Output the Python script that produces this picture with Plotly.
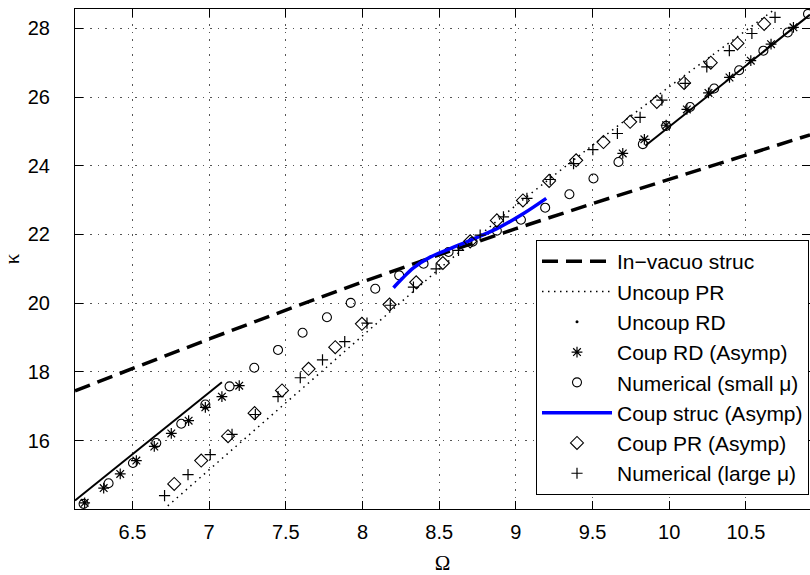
import plotly.graph_objects as go

# ---------------- data ----------------
invacuo_omega = [6.125, 6.5, 7.0, 7.5, 8.0, 8.5, 9.0, 9.5, 10.0, 10.5, 10.918]
invacuo_kappa = [17.45, 18.10, 18.96, 19.80, 20.62, 21.41, 22.17, 22.90, 23.61, 24.31, 24.90]

uncoup_pr_omega = [6.73, 7.0, 7.5, 8.0, 8.5, 9.0, 9.5, 10.0, 10.5, 10.69]
uncoup_pr_kappa = [14.10, 15.15, 17.10, 19.05, 21.00, 22.85, 24.60, 26.30, 27.95, 28.56]

rd_low_omega = [6.125, 7.083]
rd_low_kappa = [14.26, 17.70]
rd_high_omega = [9.844, 10.918]
rd_high_kappa = [24.58, 28.40]

coup_rd_omega = [6.188, 6.312, 6.420, 6.525, 6.642, 6.753, 6.866, 6.975, 7.083, 7.196,
                 9.697, 9.838, 9.980, 10.115, 10.256, 10.393, 10.532, 10.664, 10.81]
coup_rd_kappa = [14.19, 14.62, 15.03, 15.42, 15.83, 16.21, 16.58, 16.97, 17.28, 17.60,
                 24.36, 24.77, 25.18, 25.64, 26.12, 26.57, 27.06, 27.54, 28.03]

small_mu_omega = [6.181, 6.344, 6.503, 6.655, 6.818, 6.975, 7.133, 7.294, 7.449, 7.609,
                  7.768, 7.923, 8.083, 8.239, 8.398, 8.561, 8.718, 8.876, 9.033, 9.191,
                  9.349, 9.506, 9.669, 9.828, 9.980, 10.136, 10.293, 10.456, 10.614, 10.773, 10.905]
small_mu_kappa = [14.16, 14.76, 15.35, 15.93, 16.49, 17.05, 17.58, 18.12, 18.64, 19.14,
                  19.59, 20.01, 20.42, 20.81, 21.15, 21.49, 21.79, 22.11, 22.43, 22.78,
                  23.17, 23.63, 24.11, 24.63, 25.16, 25.71, 26.25, 26.78, 27.35, 27.88, 28.42]

coup_struc_omega = [8.202, 8.257, 8.332, 8.441, 8.572, 8.702, 8.876, 9.050, 9.198]
coup_struc_kappa = [20.45, 20.71, 21.03, 21.34, 21.59, 21.83, 22.17, 22.61, 23.05]

coup_pr_omega = [6.772, 6.948, 7.123, 7.296, 7.475, 7.648, 7.822, 7.996, 8.176, 8.350,
                 8.524, 8.702, 8.876, 9.046, 9.217, 9.393, 9.571, 9.745, 9.919, 10.097,
                 10.271, 10.445, 10.619]
coup_pr_kappa = [14.74, 15.42, 16.13, 16.80, 17.46, 18.09, 18.72, 19.40, 19.96, 20.61,
                 21.17, 21.80, 22.41, 22.99, 23.56, 24.16, 24.69, 25.28, 25.86, 26.41,
                 27.00, 27.56, 28.13]

large_mu_omega = [6.709, 6.862, 7.007, 7.149, 7.301, 7.449, 7.594, 7.739, 7.884, 8.029,
                  8.181, 8.332, 8.480, 8.626, 8.767, 8.919, 9.072, 9.224, 9.376, 9.502,
                  9.662, 9.810, 9.952, 10.104, 10.245, 10.392, 10.539, 10.690]
large_mu_kappa = [14.40, 15.01, 15.59, 16.18, 16.76, 17.28, 17.83, 18.35, 18.88, 19.42,
                  19.94, 20.47, 21.00, 21.54, 21.98, 22.51, 23.05, 23.60, 24.06, 24.47,
                  24.94, 25.41, 25.91, 26.40, 26.88, 27.35, 27.85, 28.32]

x_tick_vals = [6.5, 7, 7.5, 8, 8.5, 9, 9.5, 10, 10.5]
x_tick_text = ["6.5", "7", "7.5", "8", "8.5", "9", "9.5", "10", "10.5"]
y_tick_vals = [16, 18, 20, 22, 24, 26, 28]
y_tick_text = ["16", "18", "20", "22", "24", "26", "28"]

x_range = [6.125, 10.918]
y_range = [14.01, 28.563]

# ---------------- figure ----------------
fig = go.Figure()

fig.add_trace(go.Scatter(x=invacuo_omega, y=invacuo_kappa, mode="lines",
                         name="In\u2212vacuo struc",
                         line=dict(color="black", width=3.5, dash="16px,8px")))
fig.add_trace(go.Scatter(x=uncoup_pr_omega, y=uncoup_pr_kappa, mode="lines",
                         name="Uncoup PR",
                         line=dict(color="black", width=1.5, dash="1.5px,4.5px")))
# Uncoup RD: dense dots that read as a solid line; legend entry shows a dot
fig.add_trace(go.Scatter(x=[None], y=[None], mode="markers", name="Uncoup RD",
                         marker=dict(symbol="circle", size=3, color="black")))
fig.add_trace(go.Scatter(x=rd_low_omega, y=rd_low_kappa, mode="lines", showlegend=False,
                         line=dict(color="black", width=2)))
fig.add_trace(go.Scatter(x=rd_high_omega, y=rd_high_kappa, mode="lines", showlegend=False,
                         line=dict(color="black", width=2)))
fig.add_trace(go.Scatter(x=coup_rd_omega, y=coup_rd_kappa, mode="markers",
                         name="Coup RD (Asymp)",
                         marker=dict(symbol="asterisk-open", size=9, color="black",
                                     line=dict(color="black", width=1.2))))
fig.add_trace(go.Scatter(x=small_mu_omega, y=small_mu_kappa, mode="markers",
                         name="Numerical (small \u03bc)",
                         marker=dict(symbol="circle-open", size=9, color="black",
                                     line=dict(color="black", width=1.1))))
fig.add_trace(go.Scatter(x=coup_struc_omega, y=coup_struc_kappa, mode="lines",
                         name="Coup struc (Asymp)", line_shape="spline",
                         line=dict(color="#0000ff", width=3.5)))
fig.add_trace(go.Scatter(x=coup_pr_omega, y=coup_pr_kappa, mode="markers",
                         name="Coup PR (Asymp)",
                         marker=dict(symbol="diamond-open", size=10, color="black",
                                     line=dict(color="black", width=1.1))))
fig.add_trace(go.Scatter(x=large_mu_omega, y=large_mu_kappa, mode="markers",
                         name="Numerical (large \u03bc)",
                         marker=dict(symbol="cross-thin-open", size=8, color="black",
                                     line=dict(color="black", width=1.2))))
# empty trace that makes the overlay x axis (inside ticks) exist
fig.add_trace(go.Scatter(x=[None], y=[None], xaxis="x2", yaxis="y", mode="markers",
                         showlegend=False, hoverinfo="skip"))

grid_common = dict(showgrid=True, gridcolor="#555555", gridwidth=1, griddash="1.5px,6px",
                   zeroline=False, automargin=False)
tick_font = dict(family="Liberation Sans, Arial, sans-serif", size=20, color="black")
title_font = dict(family="Liberation Serif, Times New Roman, serif", size=21, color="black")

fig.update_layout(
    xaxis=dict(range=x_range, tickmode="array", tickvals=x_tick_vals, ticktext=x_tick_text,
               ticks="outside", ticklen=5, tickcolor="rgba(0,0,0,0)",
               showline=True, linecolor="black", linewidth=1.2, mirror=True,
               tickfont=tick_font,
               title=dict(text="\u03a9", standoff=14, font=title_font),
               **grid_common),
    xaxis2=dict(range=x_range, overlaying="x", anchor="y", side="bottom",
                tickmode="array", tickvals=x_tick_vals, showticklabels=False,
                ticks="inside", ticklen=8, tickwidth=1, tickcolor="black",
                showline=True, linecolor="black", linewidth=1.2, mirror="ticks",
                showgrid=False, zeroline=False, automargin=False),
    yaxis=dict(range=y_range, tickmode="array", tickvals=y_tick_vals, ticktext=y_tick_text,
               ticks="inside", ticklen=8, tickwidth=1, tickcolor="black",
               showline=True, linecolor="black", linewidth=1.2, mirror="ticks",
               ticklabelstandoff=20, tickfont=tick_font,
               title=dict(text="\u03ba", standoff=14, font=title_font),
               **grid_common),
    width=810, height=575,
    margin=dict(l=75, r=0, t=9, b=66),
    paper_bgcolor="white", plot_bgcolor="white",
    font=dict(family="Liberation Sans, Arial, sans-serif", size=20, color="black"),
    legend=dict(x=(536 - 75) / 735, xanchor="left", y=0.028, yanchor="bottom",
                bgcolor="white", bordercolor="black", borderwidth=1,
                font=dict(family="Liberation Sans, Arial, sans-serif", size=21, color="black"),
                itemwidth=70, traceorder="normal"),
    showlegend=True,
)

fig.write_html("out.html", config={"displayModeBar": False},
               post_script="document.body.style.margin='0';document.body.style.padding='0';"
                           "document.documentElement.style.overflow='hidden';")
